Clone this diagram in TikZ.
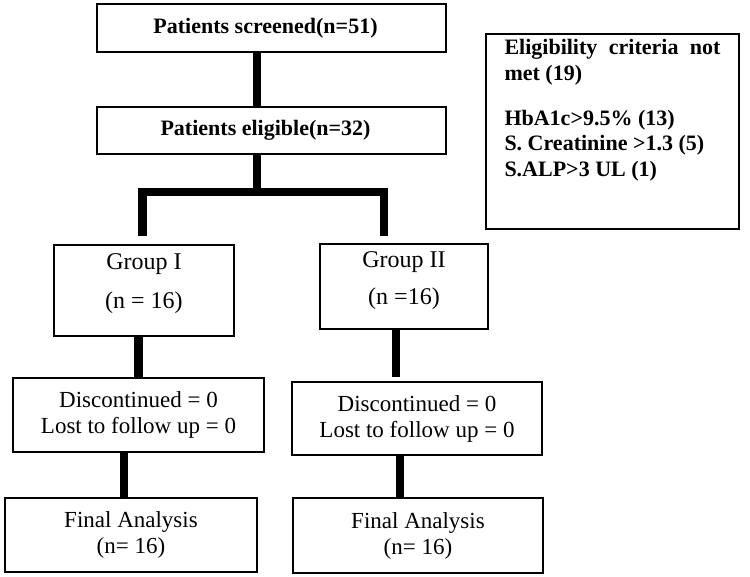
\documentclass[tikz,border=0pt]{standalone}
\usepackage{fontspec}
\setmainfont{Liberation Serif}
\tikzset{
  flowbox/.style={draw, line width=2pt, inner sep=0pt},
  link/.style={line width=8.5pt},
  headtext/.style={font=\bfseries\fontsize{22}{26}\selectfont},
  grouptext/.style={font=\fontsize{24}{28}\selectfont},
  stagetext/.style={align=center, font=\fontsize{23}{26}\selectfont},
}
\begin{document}
\begin{tikzpicture}[x=1pt,y=-1pt]
\useasboundingbox (0,0) rectangle (750,577);
\node [flowbox, headtext, line width=2.4pt, minimum width=349pt, minimum height=48pt] (screened) at (271.5,28) {Patients screened(n=51)\hspace*{12pt}};
\node [flowbox, headtext, line width=2.4pt, minimum width=349pt, minimum height=47pt] (eligible) at (271.5,130.5) {Patients eligible(n=32)\hspace*{12pt}};
\node [flowbox, anchor=north west, inner xsep=18.5pt, font=\bfseries\fontsize{22}{25.5}\selectfont] (criteria) at (485,33) {\parbox[c][195pt][t]{216pt}{\vspace*{5.5pt}Eligibility\hfill criteria\hfill not\\met (19)\\[19.5pt]HbA1c>9.5\% (13)\\S. Creatinine >1.3 (5)\\S.ALP>3 UL (1)}};
\node [flowbox, grouptext, line width=1.6pt] (groupI) at (144,290.5) {\parbox[c][91pt][t]{180pt}{\centering\vspace*{8.8pt}Group I\\[11pt](n = 16)}};
\node [flowbox, grouptext, line width=1.6pt] (groupII) at (404,286.5) {\parbox[c][85pt][t]{168pt}{\centering\vspace*{7.8pt}Group II\\[9pt](n =16)}};
\node [flowbox, stagetext, minimum width=251pt, minimum height=74pt] (discI) at (138.5,415) {Discontinued = 0\\Lost to follow up = 0};
\node [flowbox, stagetext, minimum width=250pt, minimum height=73pt] (discII) at (417,418.5) {Discontinued = 0\\Lost to follow up = 0};
\node [flowbox, stagetext, minimum width=252pt, minimum height=74pt] (finalI) at (131,535) {Final Analysis\\(n= 16)};
\node [flowbox, stagetext, minimum width=250pt, minimum height=75pt] (finalII) at (418,535.5) {Final Analysis\\(n= 16)};
\coordinate (split) at (257,192);
\coordinate (armI) at (142.5,192);
\coordinate (armII) at (384,192);
\draw [link] (screened.south -| split) -- (eligible.north -| split);
\draw [link] (eligible.south -| split) -- (split);
\draw [link, shorten <=8pt, shorten >=7pt] (groupI.north -| armI) -- (armI) -- (armII) -- (groupII.north -| armII);
\draw [link] (groupI.south -| discI) -- (discI.north);
\draw [link, shorten >=4pt] ([xshift=-8pt]groupII.south) -- ([xshift=-8pt]groupII.south |- discII.north);
\draw [link] ([xshift=-7pt]finalI.north |- discI.south) -- ([xshift=-7pt]finalI.north);
\draw [link] ([xshift=-18pt]finalII.north |- discII.south) -- ([xshift=-18pt]finalII.north);
\end{tikzpicture}
\end{document}
